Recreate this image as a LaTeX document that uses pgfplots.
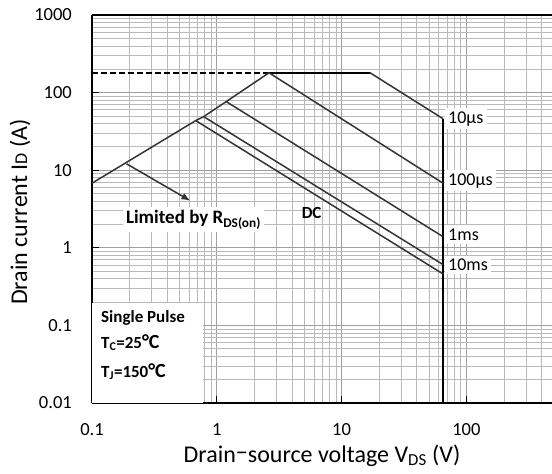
\documentclass[border=0pt]{standalone}
\usepackage{fontspec}
\setmainfont{Carlito}
\usepackage{pgfplots}
\pgfplotsset{compat=1.18}
\usetikzlibrary{arrows.meta}

\definecolor{curve}{HTML}{333333}

\newcommand{\fs}[1]{\fontsize{#1}{#1}\selectfont}

\begin{document}
\begin{tikzpicture}
\begin{loglogaxis}[
  scale only axis, width=460pt, height=388pt,
  xmin=0.1, xmax=485, ymin=0.01, ymax=1000,
  axis x line=box, axis y line=left,
  axis line style={-, line width=2.2pt, black},
  xtick={0.1,1,10,100}, xticklabels={0.1,1,10,100},
  ytick={0.01,0.1,1,10,100,1000}, yticklabels={0.01,0.1,1,10,100,1000},
  minor xtick={0.2,0.3,0.4,0.5,0.6,0.7,0.8,0.9,2,3,4,5,6,7,8,9,20,30,40,50,60,70,80,90,200,300,400},
  minor ytick={0.02,0.03,0.04,0.05,0.06,0.07,0.08,0.09,0.2,0.3,0.4,0.5,0.6,0.7,0.8,0.9,2,3,4,5,6,7,8,9,20,30,40,50,60,70,80,90,200,300,400,500,600,700,800,900},
  grid=both,
  major grid style={gray!75, line width=0.8pt},
  minor grid style={gray!55, line width=0.7pt},
  tick align=inside, xtick pos=bottom, ytick pos=left,
  major tick length=7pt, minor tick length=0pt,
  tick style={black, line width=0.8pt},
  tick label style={font=\fs{18.5}, inner sep=0pt},
  xticklabel style={anchor=base, yshift=-32pt},
  yticklabel style={anchor=east, xshift=-20pt},
  every node/.style={inner sep=1.5pt},
]
\coordinate (sw) at (rel axis cs:0,0);
\coordinate (ne) at (rel axis cs:1,1);

% limit lines
\addplot[black, line width=2pt, dash pattern=on 6pt off 3pt] coordinates {(0.1,180) (2.62,180)};
\addplot[black, line width=2pt] coordinates {(2.62,180) (16.9,180)};
\addplot[curve, line width=1.5pt] coordinates {(16.9,180) (65,46)};
\addplot[black, line width=2.4pt] coordinates {(65,46) (65,0.01)};

% R_DS(on) line
\addplot[curve, line width=1.5pt] coordinates {(0.1,6.8) (0.678,43.6) (0.785,49) (1.19,76.6) (2.62,180)};

% pulse lines
\addplot[curve, line width=1.5pt] coordinates {(2.62,180) (65,6.8)};
\addplot[curve, line width=1.5pt] coordinates {(1.19,76.6) (65,1.39)};
\addplot[curve, line width=1.5pt] coordinates {(0.785,49) (65,0.607)};
\addplot[curve, line width=1.5pt] coordinates {(0.678,43.6) (65,0.46)};

% arrow
\addplot[curve, line width=1.5pt, -{Latex[length=9pt,width=7pt]}] coordinates {(0.189,12.1) (0.614,4.04)};

% labels
\node[anchor=west, fill=white, font=\fs{18}] at (axis cs:67,46) {10µs};
\node[anchor=west, fill=white, font=\fs{18}] at (axis cs:67,7.3) {100µs};
\node[anchor=west, fill=white, font=\fs{18}] at (axis cs:67,1.48) {1ms};
\node[anchor=west, fill=white, font=\fs{18}] at (axis cs:67,0.6) {10ms};
\node[font=\bfseries\fs{17}] at (axis cs:5.75,2.83) {DC};
\node[fill=white, font=\bfseries\fs{19}, inner sep=3pt] at (axis cs:0.65,2.3) {Limited by R\textsubscript{DS(on)}};

\fill[white] (axis cs:0.1,0.01) rectangle (axis cs:0.771,0.196);
\node[anchor=west, font=\bfseries\fs{17}] at (axis cs:0.111,0.126) {Single Pulse};
\node[anchor=west, font=\bfseries\fs{17}] at (axis cs:0.111,0.060) {T\textsubscript{C}=25{\fs{20}°C}};
\node[anchor=west, font=\bfseries\fs{17}] at (axis cs:0.111,0.0254) {T\textsubscript{J}=150{\fs{20}°C}};
\end{loglogaxis}
\node[anchor=base, font=\fs{24}, inner sep=0pt] at ([shift={(230pt,-59pt)}]sw)
  {Drain\raisebox{0.1ex}{−}source voltage V\textsubscript{DS} (V)};
\node[rotate=90, font=\fs{24}, inner sep=0pt] at ([shift={(-72pt,191pt)}]sw)
  {Drain current I{\fs{18}D} (A)};
\pgfresetboundingbox
\path ([shift={(-92pt,-70pt)}]sw) rectangle ([shift={(0pt,15pt)}]ne);
\end{tikzpicture}
\end{document}
